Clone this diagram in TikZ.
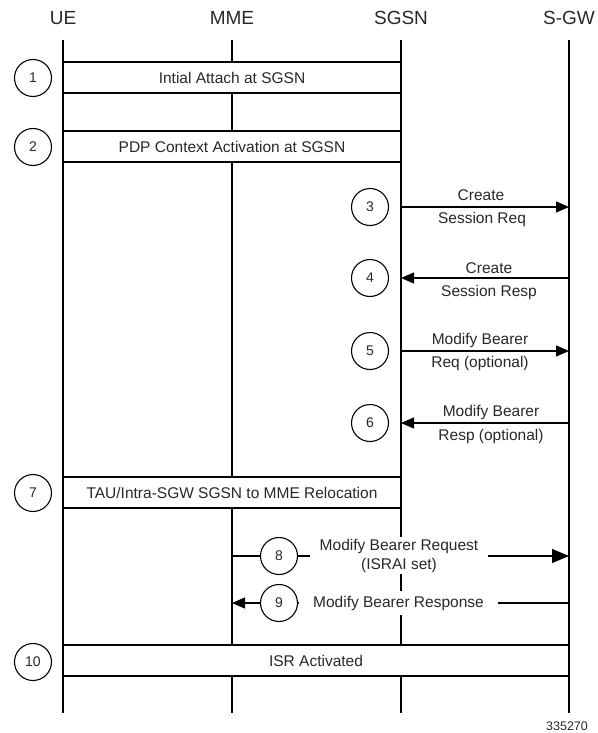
\documentclass[tikz,border=0pt]{standalone}
\usepackage{fontspec}
\setmainfont{Liberation Sans}
\usetikzlibrary{arrows.meta}
\definecolor{txt}{RGB}{40,40,40}
\begin{document}
\begin{tikzpicture}[x=1pt,y=-1pt,
  line width=1.1pt,
  hdr/.style={font=\fontsize{19}{22}\selectfont, text=txt, inner sep=0pt},
  life/.style={line width=1.2pt},
  stepbox/.style={draw, fill=white, inner sep=0pt, minimum height=31pt, font=\fontsize{15.5}{18}\selectfont, text=txt},
  num/.style={circle, draw, fill=white, minimum size=37pt, inner sep=0pt, font=\fontsize{14}{16}\selectfont, text=txt},
  lbl/.style={font=\fontsize{15.5}{18}\selectfont, text=txt, inner sep=0pt},
  wlbl/.style={font=\fontsize{15.5}{19}\selectfont, text=txt, fill=white, align=center, inner ysep=2pt},
  msg/.style={-{Triangle[length=13pt,width=11pt]}},
  bigmsg/.style={-{Triangle[length=17pt,width=14pt]}}
]
\useasboundingbox (0,0) rectangle (597,733);
% headers
\node[hdr] (ue)   at (63,18)  {UE};
\node[hdr] (mme)  at (232,18) {MME};
\node[hdr] (sgsn) at (401,18) {SGSN};
\node[hdr] (sgw)  at (569,18) {S-GW};
% lifelines
\coordinate (ueT) at (63,40);   \coordinate (ueB) at (63,713);
\coordinate (mmeT) at (232,40); \coordinate (mmeB) at (232,713);
\coordinate (sgsnT) at (401,40);\coordinate (sgsnB) at (401,713);
\coordinate (sgwT) at (569,40); \coordinate (sgwB) at (569,713);
\draw[life] (ueT) -- (ueB);
\draw[life] (mmeT) -- (mmeB);
\draw[life] (sgsnT) -- (sgsnB);
\draw[life] (sgwT) -- (sgwB);
% boxes
\node[stepbox, minimum width=338pt] (b1) at (232,77.5) {Intial Attach at SGSN};
\node[stepbox, minimum width=338pt] (b2) at (232,146.5) {PDP Context Activation at SGSN};
\node[stepbox, minimum width=338pt] (b7) at (232,492.5) {TAU/Intra-SGW SGSN to MME Relocation};
\node[stepbox, minimum width=506pt] (b10) at (316,660.5) {ISR Activated};
\node[num] (n1) at (33,78) {1};
\node[num] (n2) at (33,147) {2};
\node[num] (n7) at (33,493) {7};
\node[num] (n10) at (33,662) {10};
% messages 3-6
\coordinate (s3) at (401,207); \coordinate (g3) at (569,207);
\coordinate (s4) at (401,278); \coordinate (g4) at (569,278);
\coordinate (s5) at (401,351); \coordinate (g5) at (569,351);
\coordinate (s6) at (401,423); \coordinate (g6) at (569,423);
\draw[msg] (s3) -- (g3);
\draw[msg] (g4) -- (s4);
\draw[msg] (s5) -- (g5);
\draw[msg] (g6) -- (s6);
\node[num] (n3) at (370,207) {3};
\node[num] (n4) at (370,278) {4};
\node[num] (n5) at (370,351) {5};
\node[num] (n6) at (370,423) {6};
\node[lbl] (l3a) at (481,195) {Create};
\node[lbl] (l3b) at (482,219) {Session Req};
\node[lbl] (l4a) at (489,268) {Create};
\node[lbl] (l4b) at (489,292) {Session Resp};
\node[lbl] (l5a) at (480,340) {Modify Bearer};
\node[lbl] (l5b) at (480,363) {Req (optional)};
\node[lbl] (l6a) at (491,412) {Modify Bearer};
\node[lbl] (l6b) at (491,436) {Resp (optional)};
% messages 8-9
\coordinate (m8) at (232,556); \coordinate (g8) at (569,556);
\coordinate (m9) at (232,603); \coordinate (g9) at (569,603);
\node[num] (n8) at (279,556) {8};
\node[num] (n9) at (279,603) {9};
\draw (m8) -- (n8.west);
\draw[bigmsg] (n8.east) -- (g8);
\draw (g9) -- (n9.east);
\draw[msg] (n9.west) -- (m9);
\node[wlbl, inner xsep=10pt] (l8) at (399,555.5) {Modify Bearer Request\\(ISRAI set)};
\node[wlbl, inner xsep=14pt, inner ysep=5pt] (l9) at (398.5,603) {Modify Bearer Response};
% figure id
\node[font=\fontsize{12.5}{14}\selectfont, text=txt, inner sep=0pt] (fid) at (567,726) {335270};
\end{tikzpicture}
\end{document}
